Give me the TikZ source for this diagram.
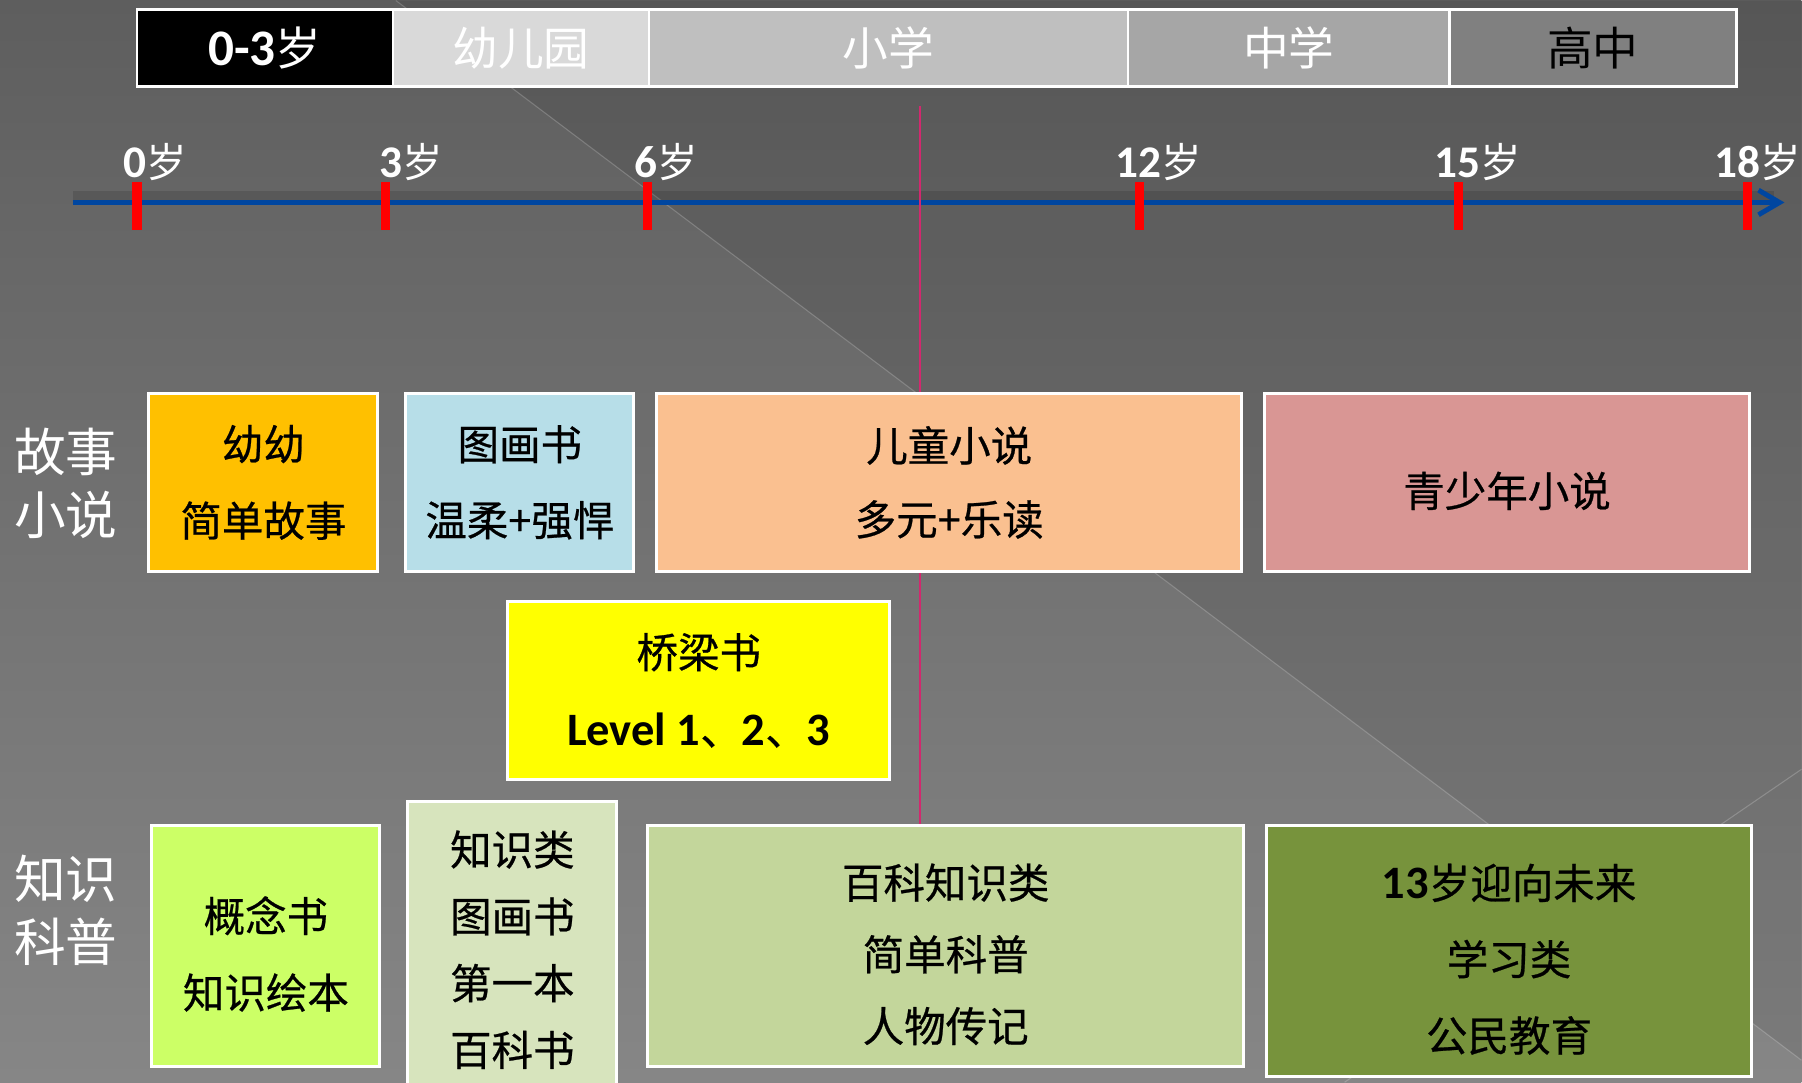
\documentclass[tikz,border=0pt]{standalone}
\usepackage{fontspec}
\setmainfont{Noto Sans CJK SC}
\newfontfamily\boxcjk{Noto Sans CJK SC}[FakeBold=0.6]
\newfontfamily\calib{Carlito}[Scale=1.12]
\usetikzlibrary{positioning,arrows.meta}
\definecolor{bgtop}{RGB}{94,94,94}
\definecolor{bgbottom}{RGB}{134,134,134}
\definecolor{axisblue}{RGB}{0,70,160}
\definecolor{markpink}{RGB}{210,40,110}
\definecolor{kindergray}{RGB}{217,217,217}
\definecolor{primarygray}{RGB}{191,191,191}
\definecolor{middlegray}{RGB}{166,166,166}
\definecolor{highgray}{RGB}{128,128,128}
\definecolor{babyorange}{RGB}{255,192,0}
\definecolor{picbookblue}{RGB}{183,222,232}
\definecolor{novelpeach}{RGB}{250,192,144}
\definecolor{teenpink}{RGB}{217,150,148}
\definecolor{bridgeyellow}{RGB}{255,255,0}
\definecolor{conceptlime}{RGB}{204,255,102}
\definecolor{factpale}{RGB}{215,228,189}
\definecolor{sciencegreen}{RGB}{195,214,155}
\definecolor{civicolive}{RGB}{119,147,60}
\newcommand{\agenum}[1]{{\calib\bfseries #1}}
% taller first line, pushes the text of a box a bit down
\newcommand{\pushdown}{\rule{0pt}{14.8pt}}

\begin{document}
\begin{tikzpicture}[x=0.01cm, y=-0.01cm,
  stage/.style={draw=white, line width=0.7pt, outer sep=0pt, minimum height=0.77cm, inner sep=0pt, text=white, font=\fontsize{13}{15}\selectfont},
  book/.style={draw=white, line width=0.85pt, inner sep=0pt, align=center, text=black},
  rowlabel/.style={text=white, align=center, font=\fontsize{14.7}{17.9}\selectfont},
  agelabel/.style={anchor=base, text=white, inner sep=0pt, font=\fontsize{11.5}{13}\selectfont},
  tickmark/.style={red, line width=2.6pt},
  axisline/.style={draw=axisblue, line width=1.4pt, -{Straight Barb[length=6pt,width=7pt]}}]
% background: grey, lighter towards the bottom, with two thin diagonals
\shade[top color=bgtop, bottom color=bgbottom] (0,0) rectangle (1802,1082);
\fill[black, opacity=0.08] (396,0) -- (1802,1060) -- (1802,0) -- cycle;
\draw[white, opacity=0.2, line width=0.3pt] (396,0) -- (1802,1060);
\draw[white, opacity=0.2, line width=0.3pt] (1802,769) -- (1345,1082);
\useasboundingbox (0,0) rectangle (1802,1082);

% school stages along the top
\node[stage, fill=black, minimum width=2.56cm] (s03) at (265,47.5) {\agenum{0-3}岁};
\node[stage, fill=kindergray, minimum width=2.56cm, right=0pt of s03] (kg) {幼儿园};
\node[stage, fill=primarygray, minimum width=4.79cm, right=0pt of kg] (prim) {小学};
\node[stage, fill=middlegray, minimum width=3.21cm, right=0pt of prim] (mid) {中学};
\node[stage, fill=highgray, minimum width=2.87cm, right=0pt of mid, text=black] (high) {高中};

% age axis
\coordinate (axstart) at (73,202);
\coordinate (axend) at (1785,202);
\draw[black, opacity=0.12, line width=2.5pt] (73,195) -- (1775,195);
\draw[axisline] (axstart) -- (axend);
\foreach \x/\lx/\a in {137/155/0, 386/411/3, 648/666/6, 1140/1159/12, 1459/1478/15, 1748/1758/18}{
  \draw[tickmark] (\x,182) -- (\x,230);
  \node[agelabel] (age\a) at (\lx,177) {\agenum{\a}岁};
}

% thin marker in the middle of primary school
\coordinate (marktop) at (920,106);
\coordinate (markbot) at (920,825);
\draw[markpink, line width=0.45pt] (marktop) -- (markbot);

% row titles
\node[rowlabel] (story) at (66,483) {故事\\小说};
\node[rowlabel] (science) at (66,910) {知识\\科普};

% story books
\node[book, fill=babyorange, minimum width=2.29cm, minimum height=1.78cm, font=\boxcjk\fontsize{11.8}{21.8}\selectfont] (baby) at (263.5,482) {幼幼\\简单故事};
\node[book, fill=picbookblue, minimum width=2.28cm, minimum height=1.78cm, font=\boxcjk\fontsize{11.8}{21.6}\selectfont] (picbook) at (520,482) {图画书\\温柔+强悍};
\node[book, fill=novelpeach, minimum width=5.85cm, minimum height=1.78cm, font=\boxcjk\fontsize{11.8}{21}\selectfont] (novel) at (949.5,482) {儿童小说\\多元+乐读};
\node[book, fill=teenpink, minimum width=4.85cm, minimum height=1.78cm, font=\boxcjk\fontsize{11.8}{14}\selectfont] (teen) at (1507.5,482) {\pushdown 青少年小说};
\node[book, fill=bridgeyellow, minimum width=3.82cm, minimum height=1.78cm, font=\boxcjk\fontsize{11.8}{22}\selectfont] (bridge) at (699,690) {桥梁书\\\agenum{Level 1}、\agenum{2}、\agenum{3}};

% knowledge books
\node[book, fill=conceptlime, minimum width=2.28cm, minimum height=2.41cm, font=\boxcjk\fontsize{11.8}{21.8}\selectfont] (concept) at (266,945.5) {\pushdown 概念书\\知识绘本};
\node[book, fill=factpale, minimum width=2.09cm, minimum height=2.97cm, font=\boxcjk\fontsize{11.8}{19}\selectfont] (firstbook) at (512.5,949.5) {知识类\\图画书\\第一本\\百科书};
\node[book, fill=sciencegreen, minimum width=5.96cm, minimum height=2.41cm, font=\boxcjk\fontsize{11.8}{20.4}\selectfont] (baike) at (946,945.5) {\pushdown 百科知识类\\简单科普\\人物传记};
\node[book, fill=civicolive, minimum width=4.85cm, minimum height=2.51cm, font=\boxcjk\fontsize{11.8}{21.7}\selectfont] (future) at (1509.5,950.5) {\pushdown\agenum{13}岁迎向未来\\学习类\\公民教育};
\end{tikzpicture}
\end{document}
